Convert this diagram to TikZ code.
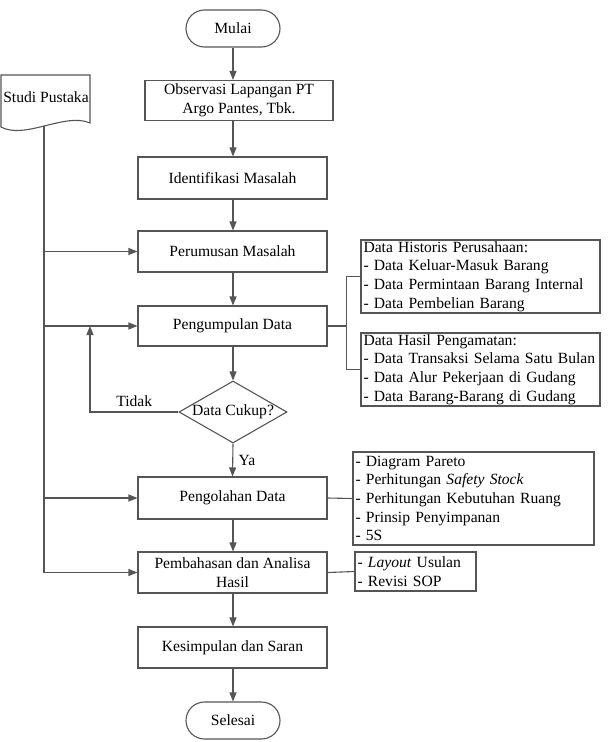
\documentclass[tikz,border=0pt]{standalone}
\usepackage{fontspec}
\setmainfont{Liberation Serif}
\usepackage{tikz}
\usetikzlibrary{shapes.geometric,
                shapes.misc, %for rounded rectangle
                arrows.meta,
                calc,
                positioning}
\definecolor{garis}{RGB}{85,85,85}
\hyphenpenalty=10000
\exhyphenpenalty=10000

\begin{document}
\begin{tikzpicture}[x=1pt, y=-1pt,
                    every node/.style={font=\fontsize{15.6}{18.6}\selectfont},
                    Terminal/.style={draw=garis, line width=1.1pt, rounded rectangle, minimum width=94pt, minimum height=37pt, inner sep=0pt},
                    Proses/.style={draw=garis, line width=1.1pt, minimum width=189pt, minimum height=41pt, inner sep=0pt, align=center},
                    Keputusan/.style={draw=garis, line width=1.1pt, diamond, aspect=1.74, minimum width=108pt, minimum height=62pt, inner sep=0pt},
                    Catatan/.style={draw=garis, line width=1.1pt, align=left, inner xsep=2.5pt, inner ysep=0pt},
                    garisan/.style={draw=garis, line width=1.1pt},
                    panah/.style={garisan, -{Triangle[length=9pt, width=7pt]}}
                    ]
    \useasboundingbox (0,0) rectangle (610,742);

    % ALUR UTAMA %
    \node[Terminal] (mulai) at (233,28.5) {Mulai};
    \node[Proses, minimum width=188pt, minimum height=40pt] (obs) at (239,100.5) {Observasi Lapangan PT\\Argo Pantes, Tbk.};
    \node[Proses, minimum height=42pt] (ident) at (232.5,178) {Identifikasi Masalah};
    \node[Proses] (rumus) at (232.5,251.5) {Perumusan Masalah};
    \node[Proses, minimum height=40pt] (kumpul) at (232.5,326) {Pengumpulan Data};
    \node[Keputusan] (cek) at (233,412) {Data Cukup?};
    \node[Proses, minimum height=42pt] (olah) at (232.5,498) {Pengolahan Data};
    \node[Proses] (bahas) at (232.5,572.5) {Pembahasan dan Analisa\\Hasil};
    \node[Proses] (simpul) at (232.5,647.5) {Kesimpulan dan Saran};
    \node[Terminal] (selesai) at (233,720.5) {Selesai};

    \foreach \a/\b in {mulai/obs, obs/ident, ident/rumus, rumus/kumpul, kumpul/cek, olah/bahas, bahas/simpul, simpul/selesai}
    \draw[panah] (mulai.south |- \a.south) -- (mulai.south |- \b.north);

    \draw[panah] (cek.south) -- (olah.north) node[pos=0.5, right, xshift=2pt]{Ya};

    \coordinate (balik) at (90,326);
    \draw[panah] (cek.west) -| (balik) node[pos=0.25, above, yshift=1pt]{Tidak};

    % STUDI PUSTAKA %
    \draw[garisan] (1,75) -- (90,75) -- (90,123)
        .. controls (65,112) and (25,140) .. (1,127) -- cycle;
    \node (studi) at (46,97) {Studi Pustaka};
    \coordinate (pustaka) at (44,125.5);

    \draw[panah] (pustaka) |- (bahas.west);
    \foreach \n in {rumus, kumpul, olah}
    \draw[panah] (pustaka |- \n.west) -- (\n.west);

    % KETERANGAN KANAN %
    \node[Catatan, text width=234pt, minimum height=73pt] (hist) at (480.5,276.5)
        {Data Historis Perusahaan:\\- Data Keluar-Masuk Barang\\- Data Permintaan Barang Internal\\- Data Pembelian Barang};
    \node[Catatan, text width=234pt, minimum height=73pt] (amat) at (480.5,369.5)
        {Data Hasil Pengamatan:\\- Data Transaksi Selama Satu Bulan\\- Data Alur Pekerjaan di Gudang\\- Data Barang-Barang di Gudang};
    \node[Catatan, text width=236pt, minimum height=93pt] (rinci) at (473.5,498.5)
        {- Diagram Pareto\\- Perhitungan \textit{Safety Stock}\\- Perhitungan Kebutuhan Ruang\\- Prinsip Penyimpanan\\- 5S};
    \node[Catatan, text width=116pt, minimum height=39pt] (usulan) at (415.5,571.5)
        {- \textit{Layout} Usulan\\- Revisi SOP};

    \draw[garisan] (kumpul.east) -- ++(19,0) coordinate (cabang);
    \draw[garisan] (hist.west) -| (cabang);
    \draw[garisan] (amat.west) -| (cabang);
    \draw[garisan] (olah.east) -- (rinci.west);
    \draw[garisan] (bahas.east) -- (usulan.west);
\end{tikzpicture}
\end{document}
